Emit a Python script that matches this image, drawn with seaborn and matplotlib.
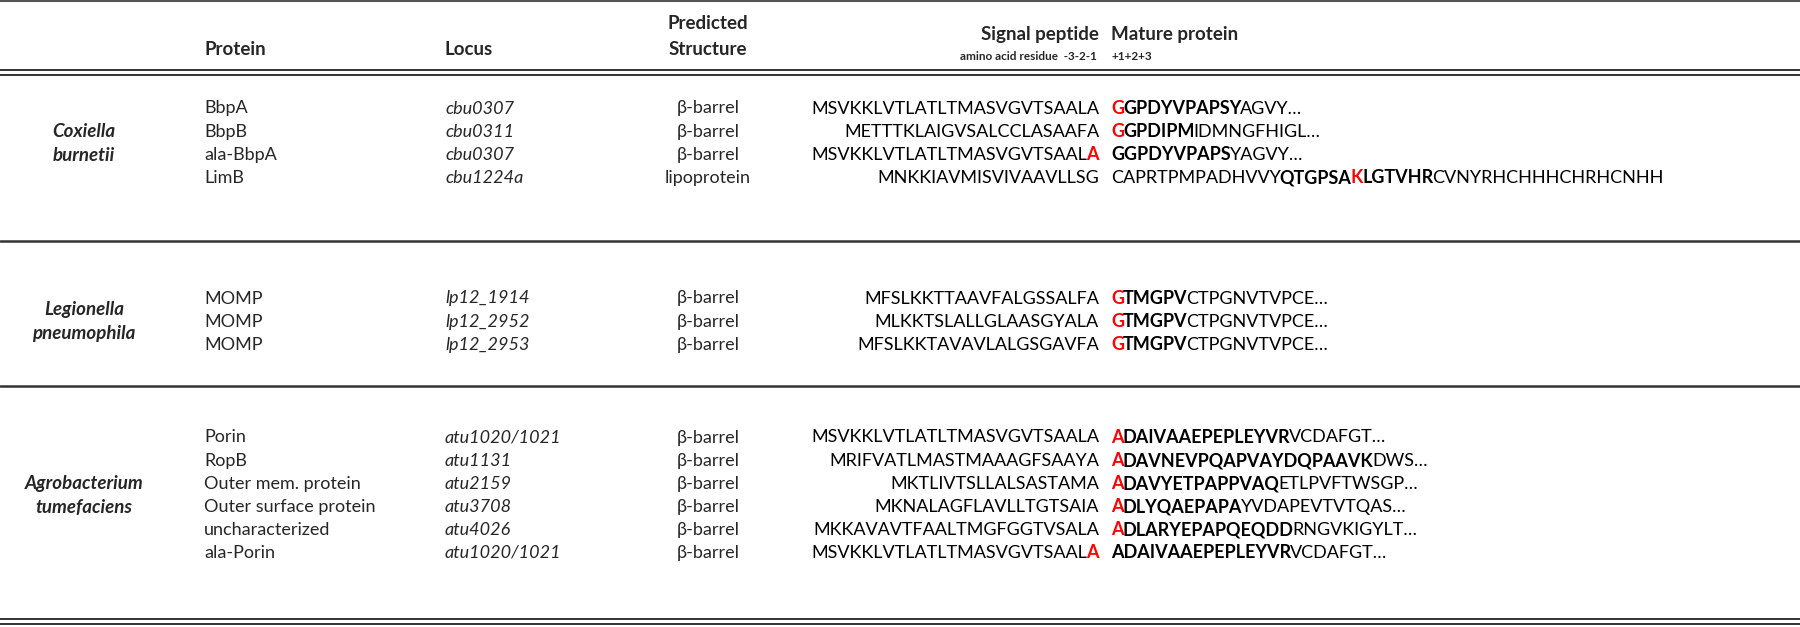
import re
import matplotlib
matplotlib.use('Agg')
import matplotlib.pyplot as plt
import matplotlib.transforms as mtransforms
import seaborn as sns

sns.set_theme(style='white')
plt.rcParams['font.family'] = ['Lato', 'DejaVu Sans']

# ---- table data ----------------------------------------------------------
# markup: {X} = red bold residue, *XYZ* = bold stretch
species = [('Coxiella', 'burnetii'),
           ('Legionella', 'pneumophila'),
           ('Agrobacterium', 'tumefaciens')]

proteins = [['BbpA', 'BbpB', 'ala-BbpA', 'LimB'],
            ['MOMP', 'MOMP', 'MOMP'],
            ['Porin', 'RopB', 'Outer mem. protein', 'Outer surface protein',
             'uncharacterized', 'ala-Porin']]

loci = [['cbu0307', 'cbu0311', 'cbu0307', 'cbu1224a'],
        ['lp12_1914', 'lp12_2952', 'lp12_2953'],
        ['atu1020/1021', 'atu1131', 'atu2159', 'atu3708', 'atu4026', 'atu1020/1021']]

structures = [['β-barrel', 'β-barrel', 'β-barrel', 'lipoprotein'],
              ['β-barrel', 'β-barrel', 'β-barrel'],
              ['β-barrel'] * 6]

signal_peptides = [['MSVKKLVTLATLTMASVGVTSAALA', 'METTTKLAIGVSALCCLASAAFA',
                    'MSVKKLVTLATLTMASVGVTSAAL{A}', 'MNKKIAVMISVIVAAVLLSG'],
                   ['MFSLKKTTAAVFALGSSALFA', 'MLKKTSLALLGLAASGYALA',
                    'MFSLKKTAVAVLALGSGAVFA'],
                   ['MSVKKLVTLATLTMASVGVTSAALA', 'MRIFVATLMASTMAAAGFSAAYA',
                    'MKTLIVTSLLALSASTAMA', 'MKNALAGFLAVLLTGTSAIA',
                    'MKKAVAVTFAALTMGFGGTVSALA', 'MSVKKLVTLATLTMASVGVTSAAL{A}']]

mature_proteins = [['{G}*GPDYVPAPSY*AGVY…', '{G}*GPDIPM*IDMNGFHIGL…',
                    '*GGPDYVPAPS*YAGVY…',
                    'CAPRTPMPADHVVY*QTGPSA*{K}*LGTVHR*CVNYRHCHHHCHRHCNHH'],
                   ['{G}*TMGPV*CTPGNVTVPCE…', '{G}*TMGPV*CTPGNVTVPCE…',
                    '{G}*TMGPV*CTPGNVTVPCE…'],
                   ['{A}*DAIVAAEPEPLEYVR*VCDAFGT…', '{A}*DAVNEVPQAPVAYDQPAAVK*DWS…',
                    '{A}*DAVYETPAPPVAQ*ETLPVFTWSGP…', '{A}*DLYQAEPAPA*YVDAPEVTVTQAS…',
                    '{A}*DLARYEPAPQEQDD*RNGVKIGYLT…', '*ADAIVAAEPEPLEYVR*VCDAFGT…']]

# ---- layout (pixel coordinates) -------------------------------------------
FS = 13
RED = '#ff0000'
X_SPECIES, X_PROT, X_LOCUS, X_STRUCT, X_SIG, X_MAT = 84, 204, 445, 708, 1099, 1111
SECTION_TOP = [107, 297, 436]
ROW_STEP = 23.1
RULES = [241, 386]

fig, ax = plt.subplots(figsize=(18, 6.27), dpi=100)
fig.subplots_adjust(0, 0, 1, 1)
ax.set_xlim(0, 1800)
ax.set_ylim(627, 0)
ax.set_axis_off()
renderer = fig.canvas.get_renderer()


def parse(s):
    runs = []
    for tok in re.findall(r'\{[^}]*\}|\*[^*]*\*|[^{*]+', s):
        if tok.startswith('{'):
            runs.append((tok[1:-1], RED, 'bold'))
        elif tok.startswith('*'):
            runs.append((tok[1:-1], 'black', 'bold'))
        else:
            runs.append((tok, 'black', 'normal'))
    return runs


def draw_runs(x, y, s, ha='left'):
    runs = parse(s)
    if ha == 'right':
        runs = runs[::-1]
    trans = ax.transData
    for text, color, weight in runs:
        t = ax.text(x, y, text, color=color, fontweight=weight, fontsize=FS,
                    ha=ha, va='center_baseline', transform=trans)
        w = t.get_window_extent(renderer).width - 1
        trans = mtransforms.offset_copy(trans, x=w if ha == 'left' else -w, units='dots')


# header
hdr = dict(fontsize=13.5, fontweight='bold', va='center_baseline')
ax.text(X_PROT, 48, 'Protein', ha='left', **hdr)
ax.text(X_LOCUS, 48, 'Locus', ha='left', **hdr)
ax.text(X_STRUCT, 22, 'Predicted', ha='center', **hdr)
ax.text(X_STRUCT, 48, 'Structure', ha='center', **hdr)
ax.text(X_SIG, 33, 'Signal peptide', ha='right', **hdr)
ax.text(X_MAT, 33, 'Mature protein', ha='left', **hdr)
ax.text(X_SIG - 2, 55, 'amino acid residue  -3-2-1', ha='right', va='center_baseline',
        fontsize=8.5, fontweight='bold')
ax.text(X_MAT, 55, '+1+2+3', ha='left', va='center_baseline', fontsize=8.5, fontweight='bold')

# body
for k, (genus, sp) in enumerate(species):
    ys = [SECTION_TOP[k] + ROW_STEP * i for i in range(len(proteins[k]))]
    mid = (ys[0] + ys[-1]) / 2
    ax.text(X_SPECIES, mid - 12, genus, ha='center', va='center_baseline',
            fontsize=13.5, fontweight='bold', fontstyle='italic')
    ax.text(X_SPECIES, mid + 12, sp, ha='center', va='center_baseline',
            fontsize=13.5, fontweight='bold', fontstyle='italic')
    for i, y in enumerate(ys):
        ax.text(X_PROT, y, proteins[k][i], ha='left', va='center_baseline', fontsize=FS)
        ax.text(X_LOCUS, y, loci[k][i], ha='left', va='center_baseline', fontsize=FS,
                fontstyle='italic')
        ax.text(X_STRUCT, y, structures[k][i], ha='center', va='center_baseline', fontsize=FS)
        draw_runs(X_SIG, y, signal_peptides[k][i], ha='right')
        draw_runs(X_MAT, y, mature_proteins[k][i], ha='left')

# rules
ax.axhline(1, color='#555555', lw=1.5)
for y in (70, 75):
    ax.axhline(y, color='#333333', lw=1.4)
for y in RULES:
    ax.axhline(y, color='#333333', lw=1.8)
for y in (619, 624):
    ax.axhline(y, color='#333333', lw=1.4)

plt.savefig('out.png', dpi=100)
